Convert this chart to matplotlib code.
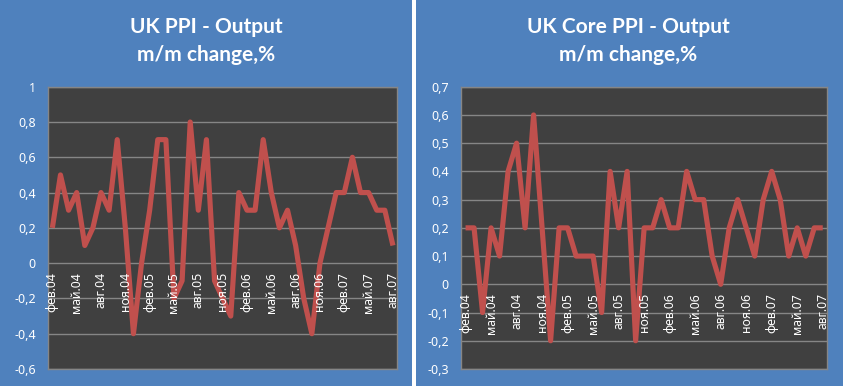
import matplotlib
matplotlib.use("Agg")
import matplotlib.pyplot as plt
from matplotlib.patches import Rectangle
from matplotlib.transforms import offset_copy
import numpy as np

months = ["янв", "фев", "мар", "апр", "май", "июн", "июл", "авг", "сен", "окт", "ноя", "дек"]
# Feb 2004 .. Aug 2007
dates = []
for y in range(2004, 2008):
    for m in range(12):
        dates.append(f"{months[m]}.{str(y)[2:]}")
dates = dates[1:1 + 43]

ppi_output = [0.2, 0.5, 0.3, 0.4, 0.1, 0.2, 0.4, 0.3, 0.7, 0.2,
              -0.4, 0.0, 0.3, 0.7, 0.7, -0.2, -0.1, 0.8, 0.3, 0.7,
              -0.1, -0.2, -0.3, 0.4, 0.3, 0.3, 0.7, 0.4, 0.2, 0.3,
              0.1, -0.2, -0.4, 0.0, 0.2, 0.4, 0.4, 0.6, 0.4, 0.4,
              0.3, 0.3, 0.1]
core_ppi_output = [0.2, 0.2, -0.1, 0.2, 0.1, 0.4, 0.5, 0.2, 0.6, 0.2,
                   -0.2, 0.2, 0.2, 0.1, 0.1, 0.1, -0.1, 0.4, 0.2, 0.4,
                   -0.2, 0.2, 0.2, 0.3, 0.2, 0.2, 0.4, 0.3, 0.3, 0.1,
                   0.0, 0.2, 0.3, 0.2, 0.1, 0.3, 0.4, 0.3, 0.1, 0.2,
                   0.1, 0.2, 0.2]

titles = [("UK PPI - Output", "m/m change,%"), ("UK Core PPI - Output", "m/m change,%")]
y_ticks_left = [-0.6, -0.4, -0.2, 0, 0.2, 0.4, 0.6, 0.8, 1]
y_ticks_right = [-0.3, -0.2, -0.1, 0, 0.1, 0.2, 0.3, 0.4, 0.5, 0.6, 0.7]

BLUE = "#4F81BD"
PLOT_BG = "#404040"
GRID = "#868686"
LINE = "#C0504D"

W, H = 843, 386
fig = plt.figure(figsize=(W / 100, H / 100), dpi=100, facecolor="white")

# panel backgrounds
fig.patches.append(Rectangle((0, 0), 412 / W, 1, transform=fig.transFigure,
                             facecolor=BLUE, edgecolor="none", zorder=-10))
fig.patches.append(Rectangle((416 / W, 0), (W - 416) / W, 1, transform=fig.transFigure,
                             facecolor=BLUE, edgecolor="none", zorder=-10))


def fmt(v):
    s = f"{v:.1f}".replace(".", ",")
    if s.endswith(",0"):
        s = s[:-2]
    if s == "-0":
        s = "0"
    return s


def draw(ax_rect, values, yticks, title, title_cx):
    ax = fig.add_axes(ax_rect)
    ax.set_facecolor(PLOT_BG)
    x = np.arange(len(values))
    ax.set_xlim(-0.5, len(values) - 0.5)
    ax.set_ylim(yticks[0], yticks[-1])
    ax.set_yticks(yticks)
    ax.set_yticklabels([fmt(v) for v in yticks])
    ax.yaxis.grid(True, color=GRID, linewidth=1.0)
    ax.set_axisbelow(True)
    ax.plot(x, values, color=LINE, linewidth=3.7, solid_joinstyle="round",
            solid_capstyle="butt", zorder=3)
    for s in ax.spines.values():
        s.set_color(GRID)
        s.set_linewidth(1.0)
    ax.tick_params(axis="y", length=0, pad=9, labelcolor="white", labelsize=9)
    ax.set_xticks([])
    lab_tr = offset_copy(ax.transData, fig=fig, x=0, y=-9, units="dots")
    for i in range(0, len(values), 3):
        ax.text(i, 0, dates[i], transform=lab_tr, rotation=90,
                ha="center", va="top", color="white", fontsize=8.8,
                family=["Noto Sans", "DejaVu Sans"])
    for t in ax.get_yticklabels():
        t.set_family(["Noto Sans", "DejaVu Sans"])
    fig.text(title_cx / W, 1 - 27 / H, title[0], ha="center", va="center",
             color="white", fontsize=15, fontweight="bold", family="Lato")
    fig.text(title_cx / W, 1 - 55 / H, title[1], ha="center", va="center",
             color="white", fontsize=15, fontweight="bold", family="Lato")
    return ax


ax1 = draw([48.3 / W, 17 / H, 348.7 / W, 282.3 / H], ppi_output, y_ticks_left,
           titles[0], 206)
ax2 = draw([461.3 / W, 17 / H, 365.7 / W, 282.3 / H], core_ppi_output, y_ticks_right,
           titles[1], 628)

fig.savefig("out.png", dpi=100, facecolor="white")
